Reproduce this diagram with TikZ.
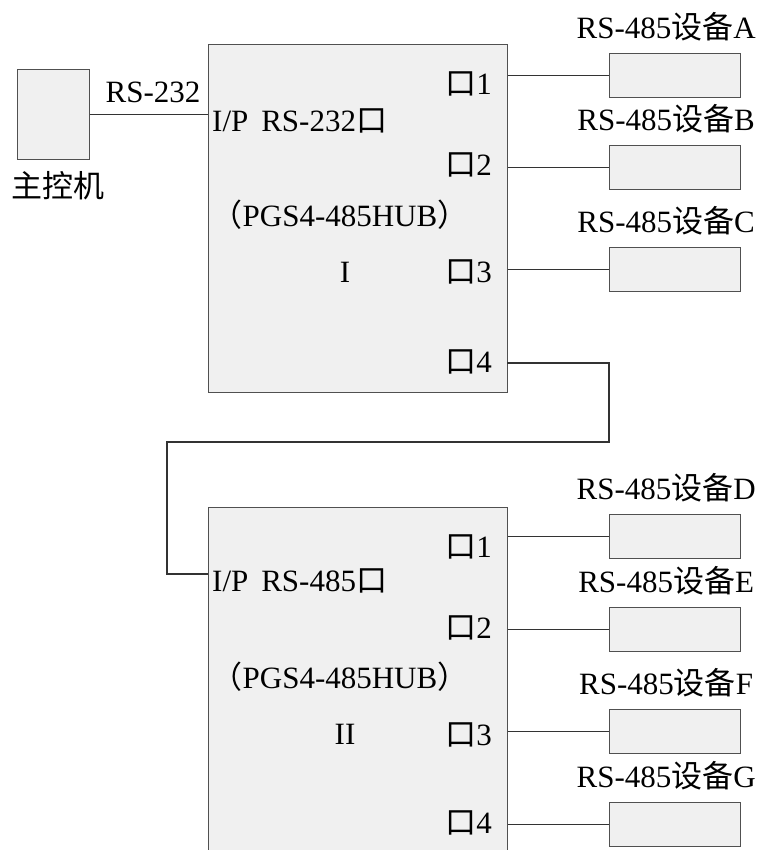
\documentclass[tikz,border=0pt]{standalone}
\usepackage{fontspec}
\setmainfont{Liberation Serif}
\newfontfamily\cjk{Noto Sans CJK SC}
\definecolor{boxfill}{HTML}{F0F0F0}
\definecolor{edge}{HTML}{505050}
\tikzset{
  box/.style={draw=edge, fill=boxfill, line width=1.3pt, inner sep=0pt, anchor=north west},
  wire/.style={draw=black!80, line width=1.1pt},
  lbl/.style={inner sep=0pt, font=\fontsize{31}{31}\selectfont},
}
\begin{document}
\begin{tikzpicture}[x=1pt,y=-1pt]
\useasboundingbox (0,0) rectangle (763,850);
\clip (0,0) rectangle (763,850);
% main controller
\node[box, minimum width=72pt, minimum height=90pt] (ctrl) at (17,69) {};
\node[lbl] (ctrlL) at (58,186) {\cjk 主控机};
% hubs
\node[box, minimum width=299pt, minimum height=348pt] (hubA) at (208,44) {};
\node[box, minimum width=299pt, minimum height=380pt] (hubB) at (208,507) {};
% controller link
\draw[wire] (ctrl.east) -- (hubA.west |- ctrl.east);
\node[lbl] (rs232) at (153,92) {RS-232};
% hub I texts
\node[lbl, anchor=west] (ipA) at (212,121) {I/P\, RS-232{\cjk 口}};
\node[lbl] (pgsA) at (340,215) {{\cjk （}PGS4-485HUB{\cjk ）}};
\node[lbl] (numA) at (345,272) {I};
\node[lbl, anchor=east] (a1) at (492,84) {{\cjk 口}1};
\node[lbl, anchor=east] (a2) at (492,165) {{\cjk 口}2};
\node[lbl, anchor=east] (a3) at (492,272) {{\cjk 口}3};
\node[lbl, anchor=east] (a4) at (492,362) {{\cjk 口}4};
% hub II texts
\node[lbl, anchor=west] (ipB) at (212,581) {I/P\, RS-485{\cjk 口}};
\node[lbl] (pgsB) at (340,677) {{\cjk （}PGS4-485HUB{\cjk ）}};
\node[lbl] (numB) at (345,734) {II};
\node[lbl, anchor=east] (b1) at (492,547) {{\cjk 口}1};
\node[lbl, anchor=east] (b2) at (492,628) {{\cjk 口}2};
\node[lbl, anchor=east] (b3) at (492,735) {{\cjk 口}3};
\node[lbl, anchor=east] (b4) at (492,823) {{\cjk 口}4};
% devices
\foreach \n/\t/\l in {A/53/A, B/145/B, C/247/C, D/514/D, E/607/E, F/709/F, G/802/G}{
  \node[box, minimum width=131pt, minimum height=44pt] (dev\n) at (609,\t) {};
  \node[lbl] (lab\n) at ([xshift=-9pt, yshift=26pt]dev\n.north) {RS-485{\cjk 设备}\l};
}
% port wires
\draw[wire] (hubA.east |- devA.west) -- (devA.west);
\draw[wire] (hubA.east |- devB.west) -- (devB.west);
\draw[wire] (hubA.east |- devC.west) -- (devC.west);
\draw[wire] (hubB.east |- devD.west) -- (devD.west);
\draw[wire] (hubB.east |- devE.west) -- (devE.west);
\draw[wire] (hubB.east |- devF.west) -- (devF.west);
\draw[wire] (hubB.east |- devG.west) -- (devG.west);
% cascade link
\coordinate (c1) at (507,363);
\coordinate (c2) at (609,363);
\coordinate (c3) at (609,442);
\coordinate (c4) at (167,442);
\coordinate (c5) at (167,574);
\draw[wire] (c1) -- (c2) -- (c3) -- (c4) -- (c5) -- (hubB.west |- c5);
\end{tikzpicture}
\end{document}
